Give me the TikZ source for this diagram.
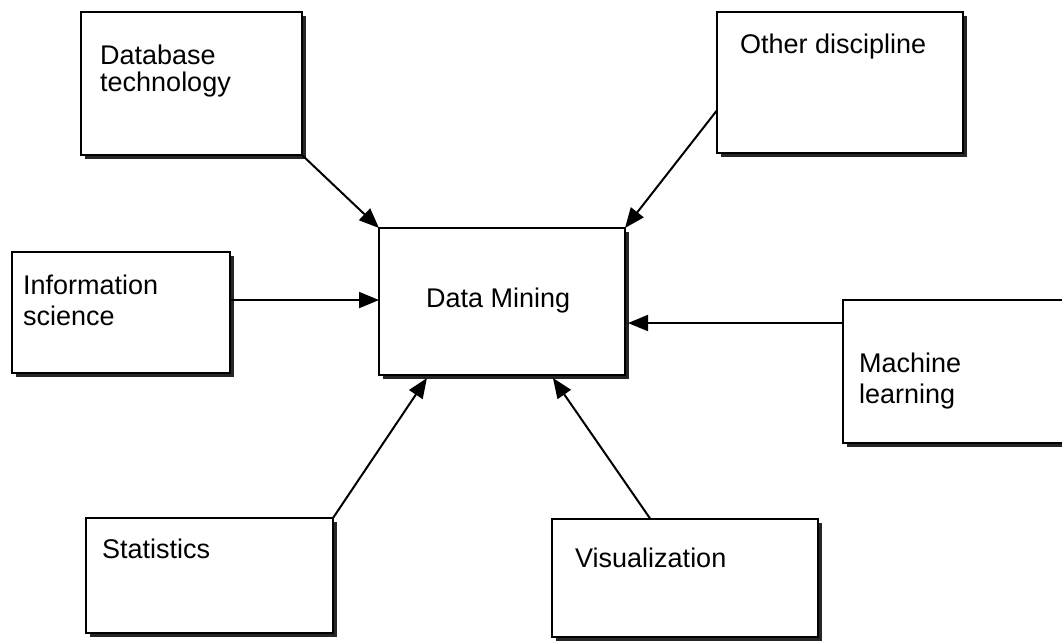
\documentclass[tikz,border=0pt]{standalone}
\usepackage{fontspec}
\setmainfont{Liberation Sans}
\usetikzlibrary{arrows.meta,calc,shadows}
\begin{document}
\begin{tikzpicture}[x=1pt,y=-1pt,
  boxnode/.style={draw, line width=2.4pt, fill=white, anchor=north west,
    inner sep=0pt, outer sep=0pt,
    general shadow={shadow xshift=3.5pt, shadow yshift=-3.5pt, fill=black!85}},
  label/.style={anchor=base west, inner sep=0pt, align=left,
    font=\fontsize{27}{31}\selectfont},
  feed/.style={line width=2pt, -{Triangle[length=20pt,width=16pt]}}]
\useasboundingbox (0,0) rectangle (1062,641);
\fill[white] (0,0) rectangle (1062,641);
\clip (0,0) rectangle (1062,641);

% boxes
\node[boxnode, minimum width=221pt, minimum height=143pt] (db) at (81,12) {};
\node[boxnode, minimum width=246pt, minimum height=141pt] (od) at (717,12) {};
\node[boxnode, minimum width=218pt, minimum height=121pt] (is) at (12,252) {};
\node[boxnode, minimum width=246pt, minimum height=147pt] (dm) at (379,228) {};
\node[boxnode, minimum width=247pt, minimum height=143pt] (ml) at (843,300) {};
\node[boxnode, minimum width=247pt, minimum height=115pt] (st) at (86,518) {};
\node[boxnode, minimum width=266pt, minimum height=118pt] (vz) at (552,519) {};

% labels (multi-line labels sit on the baseline of their last line)
\node[label, font=\fontsize{27}{27}\selectfont] (tdb) at (100,91) {Database\\technology};
\node[label] (tod) at (740,53) {Other discipline};
\node[label] (tis) at (23,325) {Information\\science};
\node[label] (tdm) at (426,307) {Data Mining};
\node[label] (tml) at (859,403) {Machine\\learning};
\node[label] (tst) at (102,558) {Statistics};
\node[label] (tvz) at (575,567) {Visualization};

% connectors
\coordinate (odout) at ($(od.north west)!0.697!(od.south west)$);
\coordinate (isout) at ($(is.north west)!0.397!(is.south west)$);
\coordinate (mlout) at ($(ml.north west)!0.161!(ml.south west)$);
\coordinate (vzout) at ($(vz.north west)!0.37!(vz.north east)$);
\coordinate (dmst) at ($(dm.south west)!0.195!(dm.south east)$);
\coordinate (dmvz) at ($(dm.south west)!0.707!(dm.south east)$);

\draw[feed] (db.south east) -- (dm.north west);
\draw[feed] (odout) -- (dm.north east);
\draw[feed] (is.east |- isout) -- (dm.west |- isout);
\draw[feed] (mlout) -- ($(dm.east |- mlout)+(3,0)$);
\draw[feed] (st.north east) -- ($(dmst)+(0,3)$);
\draw[feed] (vzout) -- ($(dmvz)+(0,3)$);
\end{tikzpicture}
\end{document}
